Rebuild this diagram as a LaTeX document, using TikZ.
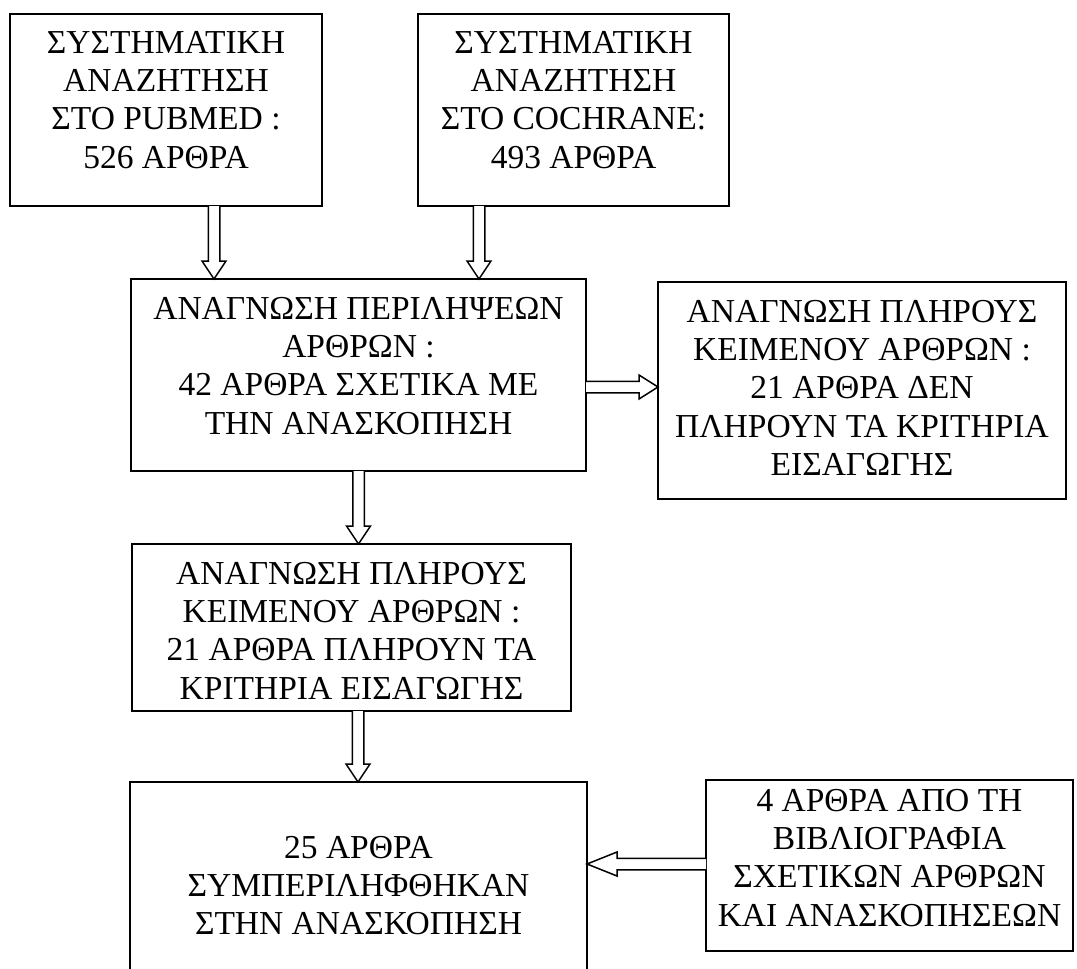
\documentclass[tikz,border=0pt]{standalone}
\usepackage{fontspec}
\setmainfont{Liberation Serif}
\usetikzlibrary{calc}
\tikzset{
  boxst/.style={draw, line width=1.5pt, rectangle, inner sep=0pt, outer sep=0pt},
  txt/.style={anchor=north, align=center, inner sep=0pt, font=\fontsize{33.5}{38.3}\selectfont},
  blk/.style={draw, line width=1.5pt, line join=miter, fill=white}
}
\newcommand\blkdown[3]{%
  \draw[blk] let \p1=(#1), \p2=(#2) in
    (\x1-5.75pt,\y1) -- (\x1-5.75pt,\y2+#3) -- (\x1-12pt,\y2+#3) -- (\x1,\y2)
    -- (\x1+12pt,\y2+#3) -- (\x1+5.75pt,\y2+#3) -- (\x1+5.75pt,\y1);}
\newcommand\blkright[3]{%
  \draw[blk] let \p1=(#1), \p2=(#2) in
    (\x1,\y1+5.75pt) -- (\x2-#3,\y1+5.75pt) -- (\x2-#3,\y1+12pt) -- (\x2,\y1)
    -- (\x2-#3,\y1-12pt) -- (\x2-#3,\y1-5.75pt) -- (\x1,\y1-5.75pt);}
\newcommand\blkleft[3]{%
  \draw[blk] let \p1=(#1), \p2=(#2) in
    (\x1,\y1+5.75pt) -- (\x2+#3,\y1+5.75pt) -- (\x2+#3,\y1+12pt) -- (\x2,\y1)
    -- (\x2+#3,\y1-12pt) -- (\x2+#3,\y1-5.75pt) -- (\x1,\y1-5.75pt);}
\begin{document}
\begin{tikzpicture}[x=1pt,y=-1pt]
\useasboundingbox (0,0) rectangle (1077,969);
% boxes (left, top, right, bottom)
\node[boxst, minimum width=312pt, minimum height=192pt] (b1) at (166,110) {};
\node[boxst, minimum width=311pt, minimum height=192pt] (b2) at (573.5,110) {};
\node[boxst, minimum width=455pt, minimum height=192pt] (b3) at (358.5,375) {};
\node[boxst, minimum width=408pt, minimum height=217pt] (r1) at (862,390.5) {};
\node[boxst, minimum width=439pt, minimum height=167pt] (b4) at (351.5,627.5) {};
\node[boxst, minimum width=367pt, minimum height=171pt] (r2) at (889.5,865.5) {};
% bottom box, open at the bottom edge of the picture
\coordinate (b5nw) at (130,782);
\coordinate (b5ne) at (587,782);
\coordinate (b5sw) at (130,969);
\coordinate (b5se) at (587,969);
\draw[line width=1.5pt] (b5sw) -- (b5nw) -- (b5ne) -- (b5se);
% texts
\node[txt] (t1) at (166,31) {ΣΥΣΤΗΜΑΤΙΚΗ\\ΑΝΑΖΗΤΗΣΗ\\ΣΤΟ PUBMED :\\526 ΑΡΘΡΑ};
\node[txt] (t2) at (573.5,31) {ΣΥΣΤΗΜΑΤΙΚΗ\\ΑΝΑΖΗΤΗΣΗ\\ΣΤΟ COCHRANE:\\493 ΑΡΘΡΑ};
\node[txt] (t3) at (358.5,297) {ΑΝΑΓΝΩΣΗ ΠΕΡΙΛΗΨΕΩΝ\\ΑΡΘΡΩΝ :\\42 ΑΡΘΡΑ ΣΧΕΤΙΚΑ ΜΕ\\ΤΗΝ ΑΝΑΣΚΟΠΗΣΗ};
\node[txt] (t4) at (862,300) {ΑΝΑΓΝΩΣΗ ΠΛΗΡΟΥΣ\\ΚΕΙΜΕΝΟΥ ΑΡΘΡΩΝ :\\21 ΑΡΘΡΑ ΔΕΝ\\ΠΛΗΡΟΥΝ ΤΑ ΚΡΙΤΗΡΙΑ\\ΕΙΣΑΓΩΓΗΣ};
\node[txt] (t5) at (351.5,562) {ΑΝΑΓΝΩΣΗ ΠΛΗΡΟΥΣ\\ΚΕΙΜΕΝΟΥ ΑΡΘΡΩΝ :\\21 ΑΡΘΡΑ ΠΛΗΡΟΥΝ ΤΑ\\ΚΡΙΤΗΡΙΑ ΕΙΣΑΓΩΓΗΣ};
\node[txt] (t6) at (358.5,836) {25 ΑΡΘΡΑ\\ΣΥΜΠΕΡΙΛΗΦΘΗΚΑΝ\\ΣΤΗΝ ΑΝΑΣΚΟΠΗΣΗ};
\node[txt] (t7) at (889.5,789) {4 ΑΡΘΡΑ ΑΠΟ ΤΗ\\ΒΙΒΛΙΟΓΡΑΦΙΑ\\ΣΧΕΤΙΚΩΝ ΑΡΘΡΩΝ\\ΚΑΙ ΑΝΑΣΚΟΠΗΣΕΩΝ};
% arrow anchor points
\coordinate (a1s) at ([xshift=48pt]b1.south);
\coordinate (a1e) at (a1s |- b3.north);
\coordinate (a2s) at ([xshift=-94.5pt]b2.south);
\coordinate (a2e) at (a2s |- b3.north);
\coordinate (a3s) at ([yshift=-12pt]b3.east);
\coordinate (a3e) at (a3s -| r1.west);
\coordinate (a4s) at (b3.south);
\coordinate (a4e) at (a4s |- b4.north);
\coordinate (a5s) at ([xshift=6.5pt]b4.south);
\coordinate (a5e) at (a5s |- b5nw);
\coordinate (a6s) at ([yshift=1.5pt]r2.west);
\coordinate (a6e) at (a6s -| b5ne);
% block arrows
\blkdown{a1s}{a1e}{18pt}
\blkdown{a2s}{a2e}{18pt}
\blkright{a3s}{a3e}{19pt}
\blkdown{a4s}{a4e}{18pt}
\blkdown{a5s}{a5e}{18pt}
\blkleft{a6s}{a6e}{30pt}
\end{tikzpicture}
\end{document}
